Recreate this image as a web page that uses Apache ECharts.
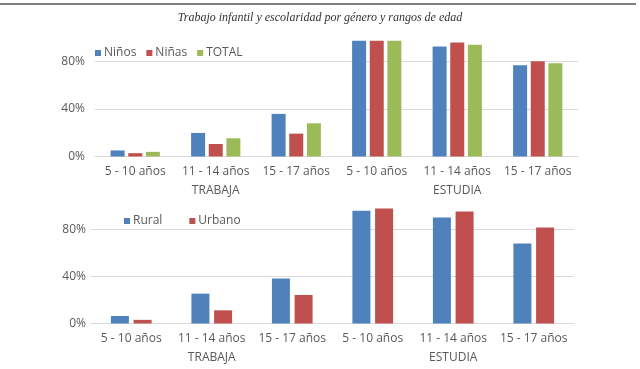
<!DOCTYPE html>
<html>
<head>
<meta charset="utf-8">
<script src="https://cdn.jsdelivr.net/npm/echarts@6/dist/echarts.min.js"></script>
<style>
html,body{margin:0;padding:0;background:#fff;}
#c{width:640px;height:369px;}
</style>
</head>
<body>
<div id="c"></div>
<script>
const titleText = 'Trabajo infantil y escolaridad por género y rangos de edad';
const categories = ['5 - 10 años','11 - 14 años','15 - 17 años','5 - 10 años','11 - 14 años','15 - 17 años'];
const groups = ['TRABAJA','ESTUDIA'];
const ninos  = [5.1, 19.8, 35.8, 97.2, 92.4, 76.6];
const ninas  = [2.8, 10.5, 19.2, 97.2, 95.8, 80.0];
const total  = [3.9, 15.3, 27.9, 97.2, 93.9, 78.4];
const rural  = [6.4, 25.4, 38.3, 96.0, 90.2, 68.0];
const urbano = [3.1, 11.2, 24.3, 97.8, 95.3, 81.7];
const yTicks = {min: 0, max: 100, interval: 40};

const BLUE = '#4F81BD', RED = '#C0504D', GREEN = '#9BBB59';
const FONT = 'Open Sans';
const TXT = '#595959';

function yAxis(gridIndex, margin) {
  return {
    type: 'value', gridIndex: gridIndex,
    min: yTicks.min, max: yTicks.max, interval: yTicks.interval,
    axisLine: {show: false}, axisTick: {show: false},
    axisLabel: {formatter: '{value}%', color: TXT, fontFamily: FONT, fontSize: 12, margin: margin, showMaxLabel: false},
    splitLine: {lineStyle: {color: '#D9D9D9', width: 1}, showMaxLine: false}
  };
}
function xCat(gridIndex) {
  return {
    type: 'category', gridIndex: gridIndex, data: categories,
    axisLine: {lineStyle: {color: '#D9D9D9'}}, axisTick: {show: false},
    axisLabel: {color: TXT, fontFamily: FONT, fontSize: 12, margin: 9, interval: 0}
  };
}
function xGroup(gridIndex, offset) {
  return {
    type: 'category', gridIndex: gridIndex, data: groups, position: 'bottom', offset: offset,
    axisLine: {show: false}, axisTick: {show: false},
    axisLabel: {color: TXT, fontFamily: FONT, fontSize: 12, margin: 9, interval: 0}
  };
}

const chart = echarts.init(document.getElementById('c'), null, {renderer: 'canvas'});
chart.setOption({
  animation: false,
  backgroundColor: '#fff',
  title: {
    text: titleText, left: 'center', top: 12, padding: 0,
    textStyle: {fontFamily: 'Liberation Serif', fontStyle: 'italic', fontWeight: 'normal', fontSize: 12, color: '#333'}
  },
  graphic: [{
    type: 'line', shape: {x1: 0, y1: 4, x2: 636, y2: 4},
    style: {stroke: '#555', lineWidth: 1.5}
  }],
  legend: [
    {data: ['Niños','Niñas','TOTAL'], left: 95, top: 47, padding: 0, itemWidth: 6, itemHeight: 6, itemGap: 10,
     icon: 'rect', textStyle: {color: TXT, fontFamily: FONT, fontSize: 12, padding: [0,0,0,-2]}},
    {data: ['Rural','Urbano'], left: 124, top: 215, padding: 0, itemWidth: 6, itemHeight: 6, itemGap: 27,
     icon: 'rect', textStyle: {color: TXT, fontFamily: FONT, fontSize: 12, padding: [0,0,0,-2]}}
  ],
  grid: [
    {left: 95, width: 483, top: 37.5, height: 119},
    {left: 91, width: 483, top: 206, height: 117.5}
  ],
  xAxis: [xCat(0), xGroup(0, 19), xCat(1), xGroup(1, 19)],
  yAxis: [yAxis(0, 10), yAxis(1, 5)],
  series: [
    {name: 'Niños', type: 'bar', xAxisIndex: 0, yAxisIndex: 0, data: ninos, barWidth: 14, barGap: '26%', itemStyle: {color: BLUE}},
    {name: 'Niñas', type: 'bar', xAxisIndex: 0, yAxisIndex: 0, data: ninas, barWidth: 14, barGap: '26%', itemStyle: {color: RED}},
    {name: 'TOTAL', type: 'bar', xAxisIndex: 0, yAxisIndex: 0, data: total, barWidth: 14, barGap: '26%', itemStyle: {color: GREEN}},
    {name: 'Rural', type: 'bar', xAxisIndex: 2, yAxisIndex: 1, data: rural, barWidth: 18, barGap: '26%', itemStyle: {color: BLUE}},
    {name: 'Urbano', type: 'bar', xAxisIndex: 2, yAxisIndex: 1, data: urbano, barWidth: 18, barGap: '26%', itemStyle: {color: RED}}
  ]
});
</script>
</body>
</html>
